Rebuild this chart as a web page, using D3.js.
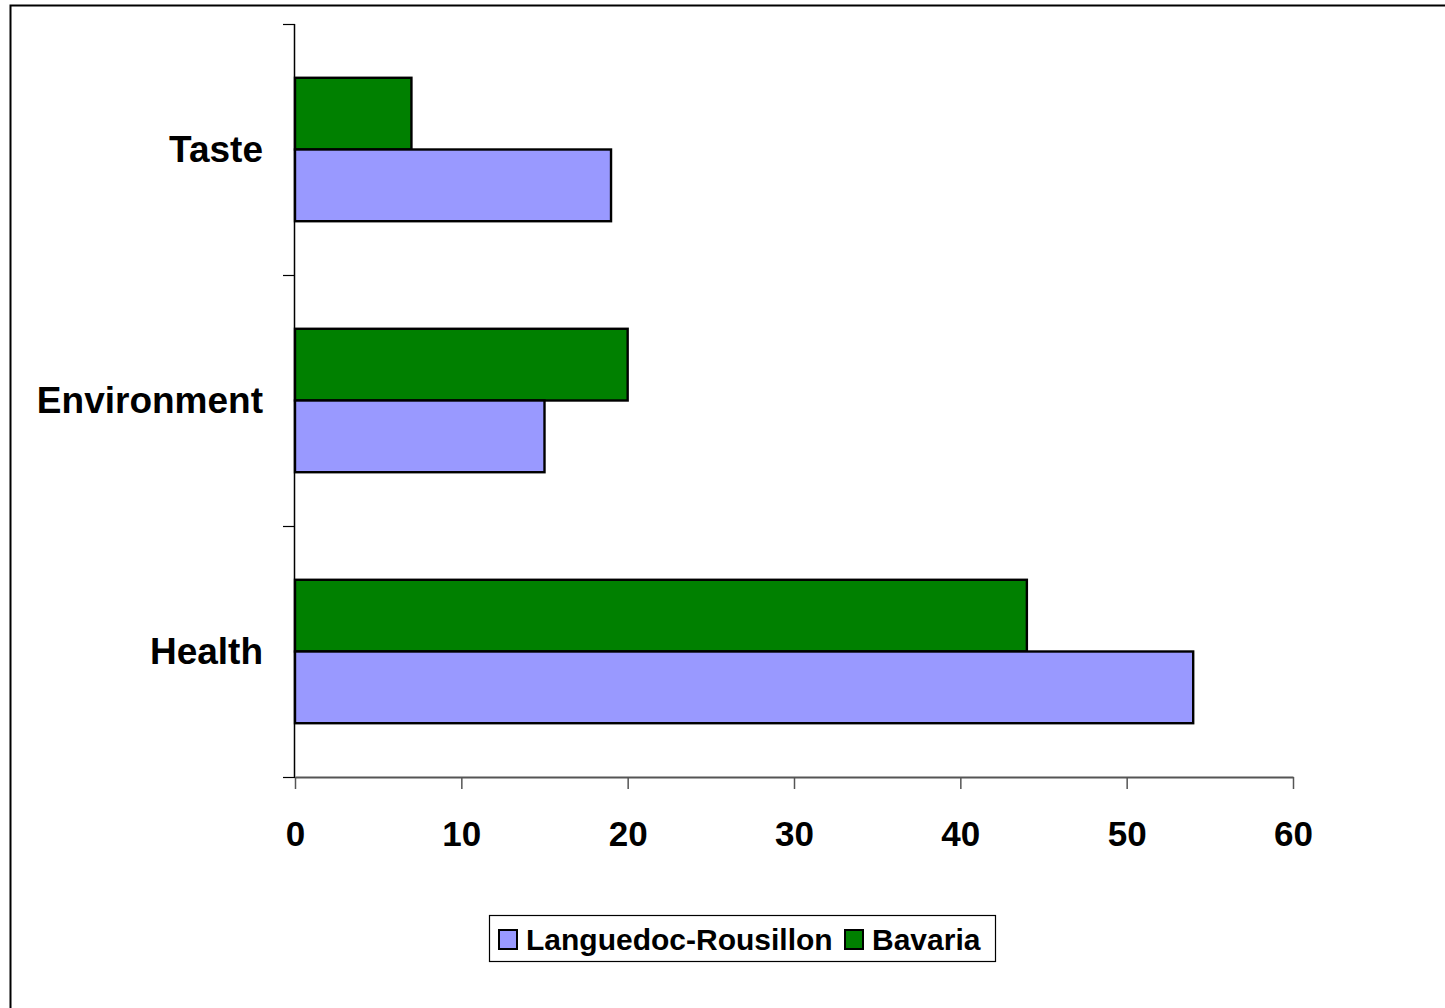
<!DOCTYPE html>
<html>
<head>
<meta charset="utf-8">
<script src="https://cdn.jsdelivr.net/npm/d3@7/dist/d3.min.js"></script>
<style>
  html, body { margin: 0; padding: 0; background: #fff; }
  svg { display: block; font-family: "Liberation Sans", Arial, sans-serif; }
</style>
</head>
<body>
<svg id="chart" width="1445" height="1008"></svg>
<script>
// Reasons for buying organic food, by region (%)
const categories = ["Taste", "Environment", "Health"];
const seriesNames = ["Bavaria", "Languedoc-Rousillon"];
const bavaria = [7, 20, 44];
const languedoc = [19, 15, 54];
const xTicks = [0, 10, 20, 30, 40, 50, 60];

const colors = { "Languedoc-Rousillon": "#9999ff", "Bavaria": "#008000" };
const values = { "Bavaria": bavaria, "Languedoc-Rousillon": languedoc };

const svg = d3.select("#chart");

// outer chart frame
svg.append("rect")
  .attr("x", 10.5).attr("y", 5.5)
  .attr("width", 1445).attr("height", 1008)
  .attr("fill", "none").attr("stroke", "#000").attr("stroke-width", 2);

const plot = { left: 295, right: 1293, top: 24, bottom: 777 };

const x = d3.scaleLinear().domain([0, 60]).range([plot.left, plot.right]);
const y = d3.scaleBand().domain(categories).range([plot.top, plot.bottom]);
const inner = d3.scaleBand().domain(seriesNames)
  .range([0, y.bandwidth()]).paddingOuter(0.75).paddingInner(0);

// bars
const g = svg.append("g");
seriesNames.forEach(s => {
  g.selectAll(null).data(categories).enter().append("rect")
    .attr("x", x(0))
    .attr("y", (c) => y(c) + inner(s))
    .attr("width", (c, i) => x(values[s][i]) - x(0))
    .attr("height", inner.bandwidth())
    .attr("fill", colors[s])
    .attr("stroke", "#000")
    .attr("stroke-width", 2.4);
});

// x axis
const xAxis = svg.append("g")
  .attr("transform", `translate(0,${plot.bottom})`)
  .call(d3.axisBottom(x).tickValues(xTicks).tickSize(12).tickPadding(0).tickSizeOuter(0));
xAxis.select(".domain").attr("stroke", "#555").attr("stroke-width", 2);
xAxis.selectAll(".tick line").attr("stroke", "#555").attr("stroke-width", 1.5);
xAxis.selectAll(".tick text")
  .attr("y", 69).attr("dy", null)
  .attr("font-size", 35).attr("font-weight", "bold").attr("fill", "#000")
  .attr("font-family", "Liberation Sans, Arial, sans-serif");

// y axis (ticks at category boundaries)
const yEdges = categories.map(c => y(c)).concat([plot.bottom]);
svg.append("line")
  .attr("x1", x(0) - 0.5).attr("x2", x(0) - 0.5)
  .attr("y1", plot.top).attr("y2", plot.bottom)
  .attr("stroke", "#000").attr("stroke-width", 1.5);
svg.selectAll(".ytick").data(yEdges).enter().append("line")
  .attr("x1", x(0) - 12).attr("x2", x(0))
  .attr("y1", d => Math.round(d) + 0.5).attr("y2", d => Math.round(d) + 0.5)
  .attr("stroke", "#000").attr("stroke-width", 1.2);

svg.selectAll(".ylabel").data(categories).enter().append("text")
  .attr("x", 263)
  .attr("y", c => y(c) + y.bandwidth() / 2 + 12)
  .attr("text-anchor", "end")
  .attr("font-size", 37).attr("font-weight", "bold")
  .text(c => c);

// legend
const legendOrder = ["Languedoc-Rousillon", "Bavaria"];
const lg = svg.append("g");
lg.append("rect")
  .attr("x", 489.5).attr("y", 915.5).attr("width", 506).attr("height", 46)
  .attr("fill", "#fff").attr("stroke", "#000").attr("stroke-width", 1.2);
const itemX = [498, 844];
legendOrder.forEach((s, i) => {
  lg.append("rect")
    .attr("x", itemX[i] + 1).attr("y", 930).attr("width", 18).attr("height", 19)
    .attr("fill", colors[s]).attr("stroke", "#000").attr("stroke-width", 2);
  lg.append("text")
    .attr("x", itemX[i] + 28).attr("y", 950)
    .attr("font-size", 30).attr("font-weight", "bold")
    .text(s);
});
</script>
</body>
</html>
